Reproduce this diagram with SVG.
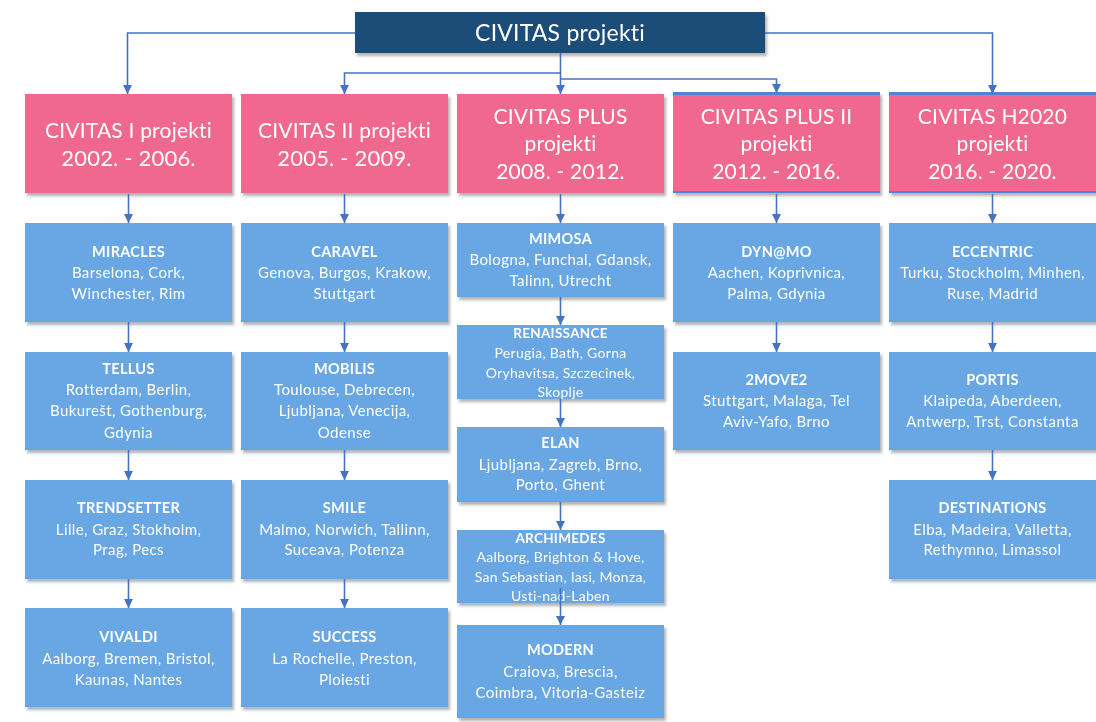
<svg xmlns="http://www.w3.org/2000/svg" width="1096" height="722" viewBox="0 0 1096 722">
<style>
.pink{fill:#F1678F}
.blue{fill:#67A7E3}
.frame{fill:#4E86D4}
.top{fill:#1F4E79}
text{font-family:Lato,"Noto Sans","Liberation Sans",sans-serif;fill:#FFFFFF;text-anchor:middle}
.h{font-size:21px;letter-spacing:0.2px}
.t{font-size:14.5px;font-weight:bold;letter-spacing:0.3px}
.b{font-size:15px;letter-spacing:0.4px}
.ts{font-size:13.5px;font-weight:bold;letter-spacing:0.3px}
.bs{font-size:14px;letter-spacing:0.3px}
.con{fill:none;stroke:#4472C4;stroke-width:1.6}
</style>
<defs>
<filter id="sh" x="-5%" y="-5%" width="115%" height="125%">
<feDropShadow dx="2" dy="3" stdDeviation="1.8" flood-color="#000" flood-opacity="0.3"/>
</filter>
<marker id="ar" markerUnits="userSpaceOnUse" markerWidth="9" markerHeight="9" refX="9" refY="4.5" orient="auto">
<path d="M0,0 L9,4.5 L0,9 z" fill="#4472C4"/>
</marker>
</defs>
<rect width="1096" height="722" fill="#FFFFFF"/>

<g id="root" filter="url(#sh)">
<rect class="top" x="355" y="12" width="410" height="41"/>
<text class="h" x="560" y="41" style="font-size:23px">CIVITAS projekti</text>
</g>

<g id="civ1" filter="url(#sh)">
<rect class="pink" x="25" y="94" width="207" height="99"/>
<text class="h" x="128.5" y="138">CIVITAS I projekti</text>
<text class="h" x="128.5" y="166" style="font-size:22px">2002. - 2006.</text>
</g>
<g id="civ2" filter="url(#sh)">
<rect class="pink" x="241" y="94" width="207" height="99"/>
<text class="h" x="344.5" y="138">CIVITAS II projekti</text>
<text class="h" x="344.5" y="166" style="font-size:22px">2005. - 2009.</text>
</g>
<g id="civplus" filter="url(#sh)">
<rect class="pink" x="457" y="94" width="207" height="99"/>
<text class="h" x="560.5" y="124">CIVITAS PLUS</text>
<text class="h" x="560.5" y="151">projekti</text>
<text class="h" x="560.5" y="179">2008. - 2012.</text>
</g>
<g id="civplus2" filter="url(#sh)">
<rect class="frame" x="673" y="92" width="207" height="101"/>
<rect class="pink" x="673" y="95" width="207" height="96"/>
<text class="h" x="776.5" y="124">CIVITAS PLUS II</text>
<text class="h" x="776.5" y="151">projekti</text>
<text class="h" x="776.5" y="179">2012. - 2016.</text>
</g>
<g id="civh2020" filter="url(#sh)">
<rect class="frame" x="889" y="92" width="207" height="101"/>
<rect class="pink" x="889" y="95" width="207" height="96"/>
<text class="h" x="992.5" y="124">CIVITAS H2020</text>
<text class="h" x="992.5" y="151">projekti</text>
<text class="h" x="992.5" y="179">2016. - 2020.</text>
</g>

<g id="miracles" filter="url(#sh)">
<rect class="blue" x="25" y="223" width="207" height="99"/>
<text class="t" x="128.5" y="257">MIRACLES</text>
<text class="b" x="128.5" y="278">Barselona, Cork,</text>
<text class="b" x="128.5" y="299">Winchester, Rim</text>
</g>
<g id="tellus" filter="url(#sh)">
<rect class="blue" x="25" y="352" width="207" height="98"/>
<text class="t" x="128.5" y="374">TELLUS</text>
<text class="b" x="128.5" y="395">Rotterdam, Berlin,</text>
<text class="b" x="128.5" y="416">Bukurešt, Gothenburg,</text>
<text class="b" x="128.5" y="438">Gdynia</text>
</g>
<g id="trendsetter" filter="url(#sh)">
<rect class="blue" x="25" y="480" width="207" height="99"/>
<text class="t" x="128.5" y="513">TRENDSETTER</text>
<text class="b" x="128.5" y="535">Lille, Graz, Stokholm,</text>
<text class="b" x="128.5" y="555">Prag, Pecs</text>
</g>
<g id="vivaldi" filter="url(#sh)">
<rect class="blue" x="25" y="608" width="207" height="99"/>
<text class="t" x="128.5" y="642">VIVALDI</text>
<text class="b" x="128.5" y="664">Aalborg, Bremen, Bristol,</text>
<text class="b" x="128.5" y="685">Kaunas, Nantes</text>
</g>

<g id="caravel" filter="url(#sh)">
<rect class="blue" x="241" y="223" width="207" height="99"/>
<text class="t" x="344.5" y="257">CARAVEL</text>
<text class="b" x="344.5" y="278">Genova, Burgos, Krakow,</text>
<text class="b" x="344.5" y="299">Stuttgart</text>
</g>
<g id="mobilis" filter="url(#sh)">
<rect class="blue" x="241" y="352" width="207" height="98"/>
<text class="t" x="344.5" y="374">MOBILIS</text>
<text class="b" x="344.5" y="395">Toulouse, Debrecen,</text>
<text class="b" x="344.5" y="416">Ljubljana, Venecija,</text>
<text class="b" x="344.5" y="438">Odense</text>
</g>
<g id="smile" filter="url(#sh)">
<rect class="blue" x="241" y="480" width="207" height="99"/>
<text class="t" x="344.5" y="513">SMILE</text>
<text class="b" x="344.5" y="535">Malmo, Norwich, Tallinn,</text>
<text class="b" x="344.5" y="555">Suceava, Potenza</text>
</g>
<g id="success" filter="url(#sh)">
<rect class="blue" x="241" y="608" width="207" height="99"/>
<text class="t" x="344.5" y="642">SUCCESS</text>
<text class="b" x="344.5" y="664">La Rochelle, Preston,</text>
<text class="b" x="344.5" y="685">Ploiesti</text>
</g>

<g id="mimosa" filter="url(#sh)">
<rect class="blue" x="457" y="223" width="207" height="74"/>
<text class="t" x="560.5" y="244">MIMOSA</text>
<text class="b" x="560.5" y="265">Bologna, Funchal, Gdansk,</text>
<text class="b" x="560.5" y="286">Talinn, Utrecht</text>
</g>
<g id="renaissance" filter="url(#sh)">
<rect class="blue" x="457" y="325" width="207" height="74"/>
<text class="ts" x="560.5" y="338">RENAISSANCE</text>
<text class="bs" x="560.5" y="358">Perugia, Bath, Gorna</text>
<text class="bs" x="560.5" y="378">Oryhavitsa, Szczecinek,</text>
<text class="bs" x="560.5" y="397">Skoplje</text>
</g>
<g id="elan" filter="url(#sh)">
<rect class="blue" x="457" y="427" width="207" height="75"/>
<text class="t" x="560.5" y="448">ELAN</text>
<text class="b" x="560.5" y="470">Ljubljana, Zagreb, Brno,</text>
<text class="b" x="560.5" y="490">Porto, Ghent</text>
</g>
<g id="archimedes" filter="url(#sh)">
<rect class="blue" x="457" y="530" width="207" height="73"/>
<text class="ts" x="560.5" y="543">ARCHIMEDES</text>
<text class="bs" x="560.5" y="562">Aalborg, Brighton &amp; Hove,</text>
<text class="bs" x="560.5" y="582">San Sebastian, Iasi, Monza,</text>
<text class="bs" x="560.5" y="601">Usti-nad-Laben</text>
</g>
<g id="modern" filter="url(#sh)">
<rect class="blue" x="457" y="625" width="207" height="93"/>
<text class="t" x="560.5" y="655">MODERN</text>
<text class="b" x="560.5" y="677">Craiova, Brescia,</text>
<text class="b" x="560.5" y="698">Coimbra, Vitoria-Gasteiz</text>
</g>

<g id="dynamo" filter="url(#sh)">
<rect class="blue" x="673" y="223" width="207" height="99"/>
<text class="t" x="776.5" y="257">DYN@MO</text>
<text class="b" x="776.5" y="278">Aachen, Koprivnica,</text>
<text class="b" x="776.5" y="299">Palma, Gdynia</text>
</g>
<g id="twomove2" filter="url(#sh)">
<rect class="blue" x="673" y="352" width="207" height="98"/>
<text class="t" x="776.5" y="385">2MOVE2</text>
<text class="b" x="776.5" y="406">Stuttgart, Malaga, Tel</text>
<text class="b" x="776.5" y="427">Aviv-Yafo, Brno</text>
</g>

<g id="eccentric" filter="url(#sh)">
<rect class="blue" x="889" y="223" width="207" height="99"/>
<text class="t" x="992.5" y="257">ECCENTRIC</text>
<text class="b" x="992.5" y="278">Turku, Stockholm, Minhen,</text>
<text class="b" x="992.5" y="299">Ruse, Madrid</text>
</g>
<g id="portis" filter="url(#sh)">
<rect class="blue" x="889" y="352" width="207" height="98"/>
<text class="t" x="992.5" y="385">PORTIS</text>
<text class="b" x="992.5" y="406">Klaipeda, Aberdeen,</text>
<text class="b" x="992.5" y="427">Antwerp, Trst, Constanta</text>
</g>
<g id="destinations" filter="url(#sh)">
<rect class="blue" x="889" y="480" width="207" height="99"/>
<text class="t" x="992.5" y="513">DESTINATIONS</text>
<text class="b" x="992.5" y="535">Elba, Madeira, Valletta,</text>
<text class="b" x="992.5" y="555">Rethymno, Limassol</text>
</g>

<g id="connectors">
<path class="con" d="M355,33 H127.5 V94" marker-end="url(#ar)"/>
<path class="con" d="M765,33 H992.5 V94" marker-end="url(#ar)"/>
<path class="con" d="M560.5,53 V94" marker-end="url(#ar)"/>
<path class="con" d="M560.5,73 H344.5 V94" marker-end="url(#ar)"/>
<path class="con" d="M560.5,79 H776.5 V93" marker-end="url(#ar)"/>

<path class="con" d="M128.5,194 V223" marker-end="url(#ar)"/>
<path class="con" d="M128.5,322 V352" marker-end="url(#ar)"/>
<path class="con" d="M128.5,450 V480" marker-end="url(#ar)"/>
<path class="con" d="M128.5,579 V608" marker-end="url(#ar)"/>

<path class="con" d="M344.5,194 V223" marker-end="url(#ar)"/>
<path class="con" d="M344.5,322 V352" marker-end="url(#ar)"/>
<path class="con" d="M344.5,450 V480" marker-end="url(#ar)"/>
<path class="con" d="M344.5,579 V608" marker-end="url(#ar)"/>

<path class="con" d="M560.5,194 V223" marker-end="url(#ar)"/>
<path class="con" d="M560.5,297 V325" marker-end="url(#ar)"/>
<path class="con" d="M560.5,399 V427" marker-end="url(#ar)"/>
<path class="con" d="M560.5,502 V530" marker-end="url(#ar)"/>
<path class="con" d="M560.5,588 V625" marker-end="url(#ar)"/>

<path class="con" d="M776.5,194 V223" marker-end="url(#ar)"/>
<path class="con" d="M776.5,322 V352" marker-end="url(#ar)"/>

<path class="con" d="M992.5,194 V223" marker-end="url(#ar)"/>
<path class="con" d="M992.5,322 V352" marker-end="url(#ar)"/>
<path class="con" d="M992.5,450 V480" marker-end="url(#ar)"/>
</g>
</svg>
